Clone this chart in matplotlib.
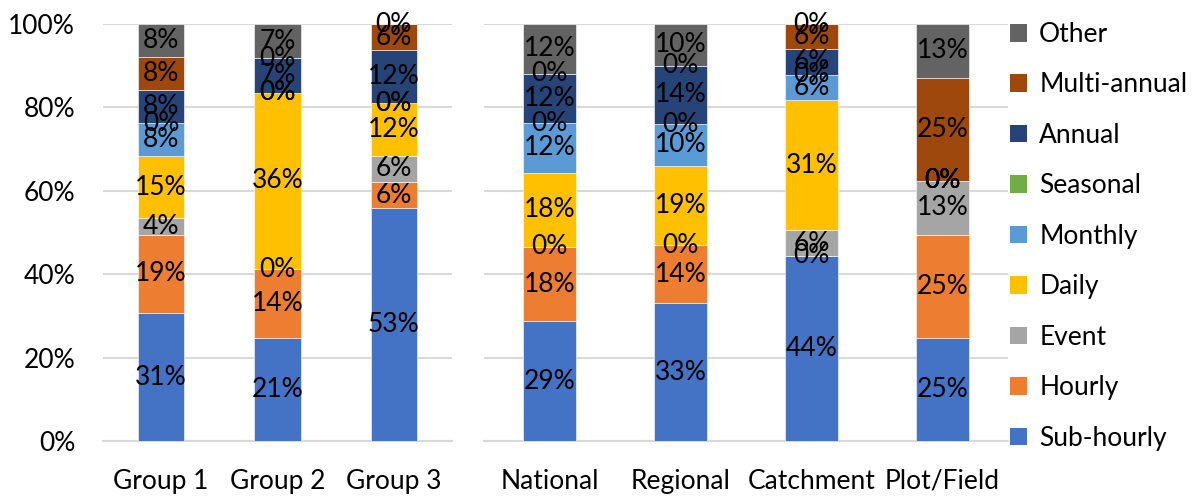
import matplotlib
matplotlib.use("Agg")
import matplotlib.pyplot as plt
from matplotlib.patches import Patch
import numpy as np

plt.rcParams['font.family'] = ['Lato', 'DejaVu Sans']

# series (bottom to top)
series = ['Sub-hourly', 'Hourly', 'Event', 'Daily', 'Monthly',
          'Seasonal', 'Annual', 'Multi-annual', 'Other']
colors = ['#4472C4', '#ED7D31', '#A5A5A5', '#FFC000', '#5B9BD5',
          '#70AD47', '#264478', '#9E480E', '#636363']

# left panel
groups = ['Group 1', 'Group 2', 'Group 3']
group_vals = [
    [31, 19, 4, 15, 8, 0, 8, 8, 8],
    [21, 14, 0, 36, 0, 0, 7, 0, 7],
    [53, 6, 6, 12, 0, 0, 12, 6, 0],
]

# right panel
scales = ['National', 'Regional', 'Catchment', 'Plot/Field']
scale_vals = [
    [29, 18, 0, 18, 12, 0, 12, 0, 12],
    [33, 14, 0, 19, 10, 0, 14, 0, 10],
    [44, 0, 6, 31, 6, 0, 6, 6, 0],
    [25, 25, 13, 0, 0, 0, 0, 25, 13],
]

FS = 19
grid_c = '#D9D9D9'


def stacked(ax, cats, vals):
    vals = np.array(vals, dtype=float)
    frac = vals / vals.sum(axis=1, keepdims=True)
    x = np.arange(len(cats))
    bottom = np.zeros(len(cats))
    for j, name in enumerate(series):
        ax.bar(x, frac[:, j], 0.4, bottom=bottom, color=colors[j],
               edgecolor='white', linewidth=0.4, zorder=3)
        for i in range(len(cats)):
            ax.text(x[i], bottom[i] + frac[i, j] / 2, f"{int(vals[i, j])}%",
                    ha='center', va='center', fontsize=FS, color='black', zorder=4)
        bottom += frac[:, j]
    ax.set_xlim(-0.5, len(cats) - 0.5)
    ax.set_ylim(0, 1)
    ax.set_yticks(np.arange(0, 1.01, 0.2))
    ax.yaxis.grid(True, color=grid_c, linewidth=1.5, zorder=0)
    for s in ['top', 'right', 'left']:
        ax.spines[s].set_visible(False)
    ax.spines['bottom'].set_color(grid_c)
    ax.spines['bottom'].set_linewidth(1.5)
    ax.set_xticks(x)
    ax.set_xticklabels(cats, fontsize=FS)
    ax.tick_params(axis='x', length=0, pad=20)
    ax.tick_params(axis='y', length=0, pad=20, labelsize=FS)


fig = plt.figure(figsize=(11.99, 4.96), dpi=100)
ax1 = fig.add_axes([0.0859, 0.1109, 0.2911, 0.8407])
ax2 = fig.add_axes([0.4037, 0.1109, 0.4370, 0.8407])

stacked(ax1, groups, group_vals)
ax1.set_yticklabels([f"{int(round(v * 100))}%" for v in ax1.get_yticks()])
stacked(ax2, scales, scale_vals)
ax2.set_yticklabels([])

handles = [Patch(facecolor=colors[j], label=series[j]) for j in range(len(series))][::-1]
fig.legend(handles=handles, loc='upper left', bbox_to_anchor=(0.8337, 0.977),
           frameon=False, fontsize=FS, handlelength=0.65, handleheight=0.65,
           handletextpad=0.45, labelspacing=0.965, borderaxespad=0)

fig.savefig('out.png', dpi=100)
